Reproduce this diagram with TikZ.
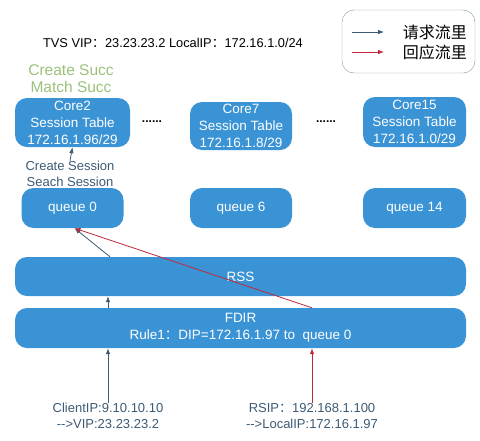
\documentclass[tikz,border=0pt]{standalone}
\usepackage{fontspec}
\setmainfont{Liberation Sans}
\newfontfamily\cjk{Noto Sans CJK SC}
\usetikzlibrary{arrows.meta}
\definecolor{boxblue}{HTML}{3A93D5}
\definecolor{reqcol}{HTML}{3D5A73}
\definecolor{respcol}{HTML}{C0283A}
\definecolor{succgreen}{HTML}{9BC07A}
\definecolor{legendline}{HTML}{7F9BAA}

\begin{document}
\begin{tikzpicture}[x=1pt, y=-1pt,
    box/.style={draw=none, fill=boxblue, rounded corners=12pt, text=white,
      align=center, inner sep=0pt, font=\fontsize{13.5}{17}\selectfont},
    req/.style={draw=reqcol, line width=0.8pt, -{Latex[length=6pt,width=4.5pt]}},
    resp/.style={draw=respcol, line width=0.8pt, -{Latex[length=6pt,width=4.5pt]}},
    lbl/.style={text=reqcol, align=center, inner sep=0pt, font=\fontsize{13}{16.5}\selectfont}]
  \useasboundingbox (0,0) rectangle (480,440);
  \node[font=\fontsize{12.8}{14}\selectfont] (title) at (173,43) {TVS VIP{\cjk ：}23.23.23.2 LocalIP{\cjk ：}172.16.1.0/24};
  \node[draw=legendline, rounded corners=12pt, minimum width=133pt, minimum height=63pt] (legend) at (408.5,41.5) {};
  \coordinate (b1) at (352,32);
  \coordinate (b2) at (384,32);
  \coordinate (r1) at (352,52);
  \coordinate (r2) at (384,52);
  \draw[req] (b1) -- (b2);
  \draw[resp] (r1) -- (r2);
  \node[anchor=east, inner sep=0pt, font=\cjk\fontsize{16}{18}\selectfont] (reqtxt) at (467,32) {请求流里};
  \node[anchor=east, inner sep=0pt, font=\cjk\fontsize{16}{18}\selectfont] (resptxt) at (467,52) {回应流里};
  \node[text=succgreen, align=center, inner sep=0pt, font=\fontsize{15.5}{17}\selectfont] (succ) at (71,78.5) {Create Succ\\Match Succ};
  \node[box, minimum width=115pt, minimum height=49pt] (core2) at (72.5,122.5) {Core2\\Session Table\\172.16.1.96/29};
  \node[box, minimum width=102pt, minimum height=48pt] (core7) at (241,126) {Core7\\Session Table\\172.16.1.8/29};
  \node[box, minimum width=103pt, minimum height=50pt] (core15) at (414.5,122) {Core15\\Session Table\\172.16.1.0/29};
  \node[font=\bfseries\fontsize{12}{14}\selectfont] (dots1) at (152,122) {......};
  \node[font=\bfseries\fontsize{12}{14}\selectfont] (dots2) at (326,122) {......};
  \node[lbl] (sess) at (70,174) {Create Session\\Seach Session};
  \node[box, minimum width=102pt, minimum height=40pt] (q0) at (72.5,208) {queue 0};
  \node[box, minimum width=102pt, minimum height=40pt] (q6) at (241,208) {queue 6};
  \node[box, minimum width=103pt, minimum height=40pt] (q14) at (414.5,208) {queue 14};
  \node[box, minimum width=451pt, minimum height=39pt] (rss) at (240.5,276.5) {RSS};
  \node[box, minimum width=451pt, minimum height=40pt] (fdir) at (240.5,328) {FDIR\\Rule1{\cjk ：}DIP=172.16.1.97 to \ queue 0};
  \node[lbl] (client) at (108,416) {ClientIP:9.10.10.10\\-{}->VIP:23.23.23.2};
  \node[lbl] (rs) at (312,416) {RSIP{\cjk ：}192.168.1.100\\-{}->LocalIP:172.16.1.97};
  \draw[req] (sess.north) -- (core2.south);
  \draw[req] (client.north) -- (client.north |- fdir.south);
  \draw[req] (fdir.north -| client.north) -- (rss.south -| client.north);
  \draw[req] ([xshift=2pt]rss.north -| client.north) -- ([xshift=2pt]q0.south);
  \draw[resp] (rs.north) -- (rs.north |- fdir.south);
  \draw[resp] (fdir.north -| rs.north) -- ([xshift=2pt]q0.south);
\end{tikzpicture}
\end{document}
